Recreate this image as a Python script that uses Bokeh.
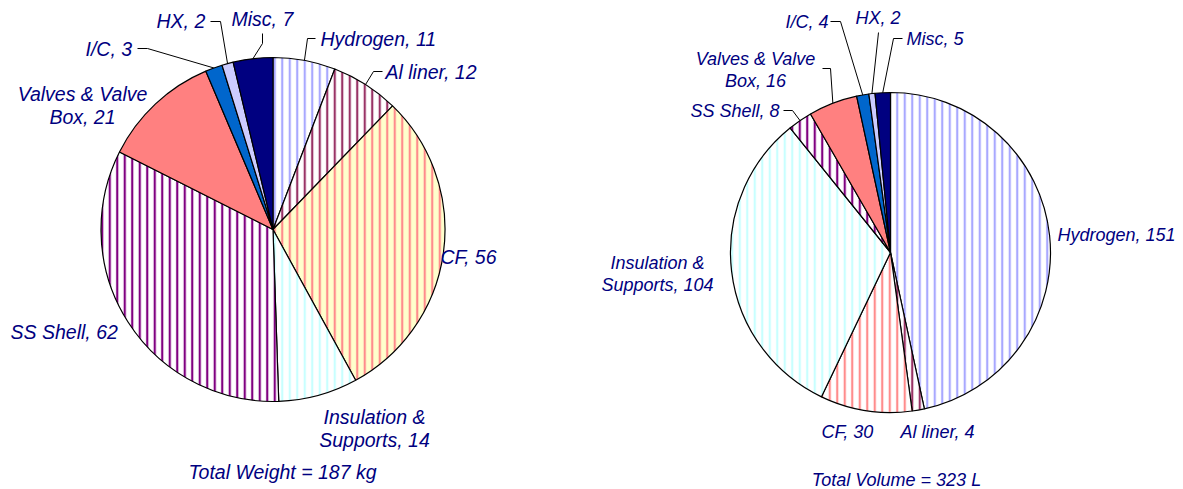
import numpy as np
from bokeh.plotting import figure
from bokeh.models import Range1d, ColumnDataSource
from bokeh.embed import file_html
from bokeh.resources import INLINE
from bokeh.core.properties import value

# ---------------- data ----------------
components = ["Hydrogen", "Al liner", "CF", "Insulation &\nSupports", "SS Shell",
              "Valves & Valve\nBox", "I/C", "HX", "Misc"]
weight_kg = [11, 12, 56, 14, 62, 21, 3, 2, 7]
volume_L = [151, 4, 30, 104, 8, 16, 4, 2, 5]
total_weight_kg = 187
total_volume_L = 323

# ---------------- styles ----------------
fill_left = ["white", "white", "#FFFFCC", "white", "white", "#FF8080", "#0066CC", "#CCCCFF", "#000080"]
fill_right = ["white", "white", "white", "white", "white", "#FF8080", "#0066CC", "#CCCCFF", "#000080"]
hatch_pat = ["|", "|", "|", "|", "|", " ", " ", " ", " "]
hatch_col = ["#A8A8FF", "#993366", "#FF8C8C", "#C8FFFF", "#800080", "white", "white", "white", "white"]

NAVY = "#000080"
FONT = value("Liberation Sans")

W, H = 1183, 489
def Y(ypx):
    return H - ypx

p = figure(width=W, height=H, output_backend="svg", toolbar_location=None,
           x_range=Range1d(0, W), y_range=Range1d(0, H),
           min_border=0, outline_line_color=None)
p.axis.visible = False
p.grid.visible = False
p.background_fill_color = "white"
p.border_fill_color = "white"

# layout: pie centres/radii, label anchors and leader elbows (page pixels)
pies = [
    dict(vals=weight_kg, cx=272.5, cy=229, r=172, fills=fill_left, fs="19.5px", lh=23,
         labels=[(320, 38, "left", [(307, 38), (315, 38)]),
                 (385, 71, "left", [(373, 71), (382, 71)]),
                 (440, 256, "left", None),
                 (374, 416, "center", None),
                 (10, 331, "left", None),
                 (82, 93, "center", None),
                 (85, 48, "left", [(147, 48), (137, 48)]),
                 (156, 20, "left", [(220, 21), (210, 21)]),
                 (231, 18, "left", [(262, 43), (262, 33)])],
         total=("Total Weight = %d kg" % total_weight_kg, 282, 471)),
    dict(vals=volume_L, cx=890, cy=252, r=160, fills=fill_right, fs="18px", lh=22,
         labels=[(1057, 234, "left", None),
                 (900, 431, "left", None),
                 (821, 431, "left", None),
                 (657, 262, "center", None),
                 (690, 110, "left", [(792, 110), (783, 110)]),
                 (755, 58, "center", [(830, 68), (822, 68)]),
                 (785, 21, "left", [(840, 21), (830, 21)]),
                 (855, 17, "left", [(878, 32)]),
                 (906, 38, "left", [(893, 38), (902, 38)])],
         total=("Total Volume = %d L" % total_volume_L, 896, 479)),
]

for pie in pies:
    vals = np.array(pie["vals"], dtype=float)
    frac = vals / vals.sum()
    cum = np.concatenate([[0], np.cumsum(frac)]) * 2 * np.pi
    start = np.pi / 2 - cum[:-1]
    end = np.pi / 2 - cum[1:]
    mid = (cum[:-1] + cum[1:]) / 2
    src = ColumnDataSource(dict(start=start, end=end, fill=pie["fills"],
                                hatch=hatch_pat, hcol=hatch_col))
    p.wedge(x=pie["cx"], y=Y(pie["cy"]), radius=pie["r"], start_angle="start",
            end_angle="end", direction="clock", fill_color="fill",
            hatch_pattern="hatch", hatch_color="hcol", hatch_scale=7.5,
            hatch_weight=2.2, line_color="black", line_width=1.2, source=src)

    xs, ys = [], []
    tx, ty, tt, ta = [], [], [], []
    for i, (lx, ly, al, elbow) in enumerate(pie["labels"]):
        text = "%s, %d" % (components[i], pie["vals"][i])
        for k, line in enumerate(text.split("\n")):
            tx.append(lx)
            ty.append(Y(ly + k * pie["lh"]))
            tt.append(line)
            ta.append(al)
        if elbow:
            rx = pie["cx"] + pie["r"] * np.sin(mid[i])
            ry = pie["cy"] - pie["r"] * np.cos(mid[i])
            pts = [(rx, ry)] + elbow
            xs.append([q[0] for q in pts])
            ys.append([Y(q[1]) for q in pts])
    p.multi_line(xs=xs, ys=ys, line_color="black", line_width=1)
    p.text(x=tx, y=ty, text=tt, text_align=ta, text_baseline="middle",
           text_font=FONT, text_font_style="italic", text_font_size=pie["fs"],
           text_color=NAVY)
    label, x0, y0 = pie["total"]
    p.text(x=[x0], y=[Y(y0)], text=[label], text_align="center",
           text_baseline="middle", text_font=FONT, text_font_style="italic",
           text_font_size=pie["fs"], text_color=NAVY)

open("out.html", "w").write(file_html(p, INLINE))
